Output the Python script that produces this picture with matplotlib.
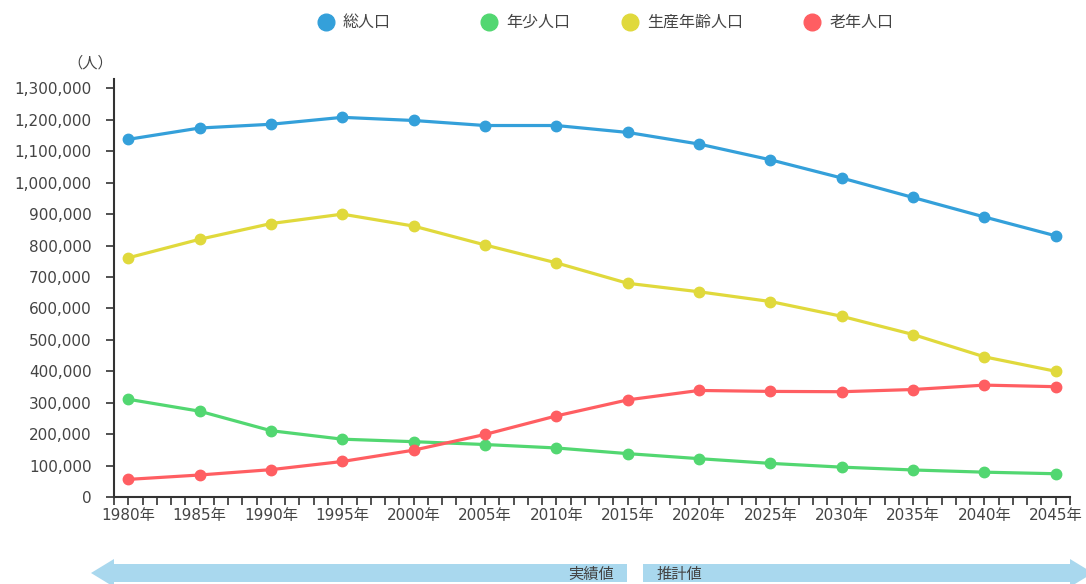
import matplotlib
matplotlib.use("Agg")
import matplotlib.pyplot as plt
from matplotlib.lines import Line2D
from matplotlib.patches import Polygon
from matplotlib.ticker import FuncFormatter, MultipleLocator

plt.rcParams["font.family"] = ["DejaVu Sans", "Noto Sans CJK JP"]

# ------------------------------------------------------------
# population by age group (1980-2015 actual, 2020- projection)
# ------------------------------------------------------------
years = [1980, 1985, 1990, 1995, 2000, 2005, 2010, 2015, 2020, 2025, 2030, 2035, 2040, 2045]
year_labels = [f"{y}年" for y in years]

total = [1138000, 1174000, 1186000, 1208000, 1198000, 1182000, 1182000,
         1160000, 1123000, 1073000, 1015000, 953000, 891000, 831000]
working = [761000, 820000, 870000, 900000, 862000, 802000, 745000,
           680000, 653000, 622000, 575000, 517000, 446000, 400000]
young = [311000, 273000, 211000, 184000, 176000, 167000, 156000,
         138000, 122000, 107000, 95000, 86000, 79000, 74000]
elderly = [56000, 70000, 87000, 113000, 149000, 199000, 258000,
           309000, 339000, 336000, 335000, 342000, 356000, 351000]

series_names = ["総人口", "年少人口", "生産年齢人口", "老年人口"]
series_values = [total, young, working, elderly]
series_colors = ["#34a0da", "#52d771", "#e0d93c", "#ff5e62"]

TEXT_COLOR = "#444444"
AXIS_COLOR = "#333333"
BAND_COLOR = "#a9d8ee"

W, H = 1086, 584
fig = plt.figure(figsize=(W / 100, H / 100), dpi=100)
ax = fig.add_axes([114 / W, 1 - 497 / H, (1070 - 114) / W, (497 - 79) / H])

for name, vals, color in zip(series_names, series_values, series_colors):
    ax.plot(years, vals, color=color, linewidth=2.3, marker="o", markersize=7.5,
            label=name, solid_capstyle="round")

ax.set_xlim(1979, 2046)
ax.set_ylim(0, 1330000)

ax.set_xticks(years)
ax.set_xticklabels(year_labels)
ax.xaxis.set_minor_locator(MultipleLocator(1))
ax.set_yticks(range(0, 1300001, 100000))
ax.yaxis.set_major_formatter(FuncFormatter(lambda v, _: f"{int(v):,}"))

ax.tick_params(axis="x", which="both", direction="out", length=6, width=1.2,
               color=AXIS_COLOR, labelsize=11, labelcolor=TEXT_COLOR, pad=2)
ax.tick_params(axis="y", direction="out", length=6, width=1.2,
               color=AXIS_COLOR, labelsize=11, labelcolor=TEXT_COLOR, pad=10)

for side in ["top", "right"]:
    ax.spines[side].set_visible(False)
for side in ["left", "bottom"]:
    ax.spines[side].set_color(AXIS_COLOR)
    ax.spines[side].set_linewidth(1.5)

# ------------------------------------------------------------
# overlay in pixel units for unit label, legend and the
# actual/projection band
# ------------------------------------------------------------
over = fig.add_axes([0, 0, 1, 1], zorder=-1)
over.set_xlim(0, W)
over.set_ylim(H, 0)
over.axis("off")

over.text(90, 63, "（人）", ha="center", va="center", fontsize=11, color=TEXT_COLOR)

legend_x = [326, 489, 630, 812]
for x, name, color in zip(legend_x, series_names, series_colors):
    over.add_line(Line2D([x], [22], marker="o", markersize=12, color=color, linestyle="none"))
    over.text(x + 17, 22, name, ha="left", va="center", fontsize=11.5, color=TEXT_COLOR)

left_arrow = [(91, 573), (114, 559), (114, 564), (627, 564), (627, 582),
              (114, 582), (114, 587)]
right_arrow = [(643, 564), (1070, 564), (1070, 559), (1093, 573),
               (1070, 587), (1070, 582), (643, 582)]
over.add_patch(Polygon(left_arrow, closed=True, facecolor=BAND_COLOR, edgecolor="none"))
over.add_patch(Polygon(right_arrow, closed=True, facecolor=BAND_COLOR, edgecolor="none"))
over.text(614, 574, "実績値", ha="right", va="center", fontsize=11, color=TEXT_COLOR)
over.text(657, 574, "推計値", ha="left", va="center", fontsize=11, color=TEXT_COLOR)

fig.savefig("out.png", dpi=100)
